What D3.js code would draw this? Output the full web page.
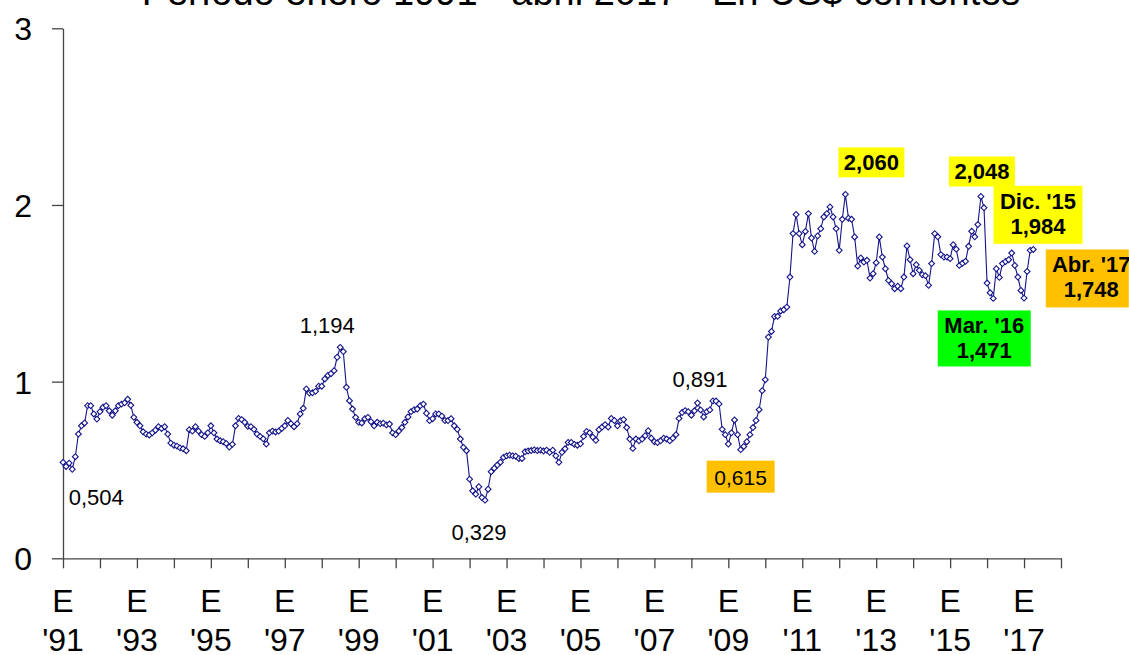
<!DOCTYPE html>
<html>
<head>
<meta charset="utf-8">
<script src="https://cdn.jsdelivr.net/npm/d3@7"></script>
<style>
  body { margin: 0; background: #fff; }
  svg { display: block; font-family: Arial, "Liberation Sans", sans-serif; }
</style>
</head>
<body>
<svg width="1129" height="655"></svg>
<script>
// monthly values, US$ corrientes, enero 1991 - abril 2017
const v1991 = [0.543, 0.520, 0.539, 0.504, 0.575, 0.703, 0.750, 0.766, 0.864, 0.864, 0.817, 0.788];
const v1992 = [0.830, 0.855, 0.864, 0.835, 0.810, 0.835, 0.864, 0.873, 0.880, 0.900, 0.866, 0.798];
const v1993 = [0.770, 0.750, 0.716, 0.703, 0.698, 0.710, 0.725, 0.745, 0.735, 0.745, 0.703, 0.652];
const v1994 = [0.640, 0.635, 0.625, 0.620, 0.609, 0.728, 0.720, 0.745, 0.720, 0.700, 0.690, 0.710];
const v1995 = [0.750, 0.710, 0.675, 0.665, 0.660, 0.650, 0.630, 0.645, 0.750, 0.792, 0.785, 0.770];
const v1996 = [0.747, 0.745, 0.730, 0.703, 0.690, 0.676, 0.647, 0.710, 0.720, 0.715, 0.720, 0.735];
const v1997 = [0.750, 0.780, 0.762, 0.745, 0.762, 0.817, 0.849, 0.959, 0.935, 0.937, 0.945, 0.974];
const v1998 = [0.974, 1.015, 1.035, 1.045, 1.062, 1.138, 1.194, 1.170, 0.968, 0.892, 0.845, 0.798];
const v1999 = [0.770, 0.766, 0.790, 0.798, 0.773, 0.750, 0.770, 0.762, 0.765, 0.755, 0.760, 0.710];
const v2000 = [0.700, 0.720, 0.740, 0.770, 0.800, 0.830, 0.841, 0.845, 0.864, 0.873, 0.821, 0.779];
const v2001 = [0.790, 0.817, 0.817, 0.805, 0.780, 0.780, 0.790, 0.750, 0.730, 0.675, 0.628, 0.609];
const v2002 = [0.448, 0.382, 0.363, 0.405, 0.344, 0.329, 0.391, 0.490, 0.510, 0.528, 0.544, 0.571];
const v2003 = [0.580, 0.584, 0.580, 0.578, 0.565, 0.565, 0.603, 0.607, 0.610, 0.614, 0.610, 0.612];
const v2004 = [0.607, 0.612, 0.600, 0.612, 0.580, 0.543, 0.600, 0.620, 0.656, 0.656, 0.645, 0.640];
const v2005 = [0.648, 0.690, 0.718, 0.710, 0.686, 0.668, 0.728, 0.743, 0.756, 0.743, 0.792, 0.780];
const v2006 = [0.750, 0.779, 0.785, 0.740, 0.675, 0.622, 0.675, 0.665, 0.675, 0.694, 0.722, 0.680];
const v2007 = [0.660, 0.655, 0.665, 0.680, 0.675, 0.665, 0.680, 0.700, 0.792, 0.825, 0.836, 0.830];
const v2008 = [0.810, 0.835, 0.879, 0.840, 0.800, 0.830, 0.840, 0.891, 0.890, 0.874, 0.730, 0.700];
const v2009 = [0.647, 0.710, 0.783, 0.700, 0.615, 0.633, 0.660, 0.700, 0.740, 0.780, 0.841, 0.949];
const v2010 = [1.011, 1.252, 1.284, 1.369, 1.370, 1.400, 1.407, 1.422, 1.592, 1.838, 1.946, 1.838];
const v2011 = [1.775, 1.850, 1.951, 1.813, 1.737, 1.825, 1.866, 1.932, 1.951, 1.989, 1.932, 1.866];
const v2012 = [1.743, 1.919, 2.060, 1.925, 1.919, 1.819, 1.654, 1.700, 1.677, 1.687, 1.586, 1.611];
const v2013 = [1.673, 1.819, 1.705, 1.639, 1.573, 1.554, 1.526, 1.540, 1.526, 1.592, 1.768, 1.690];
const v2014 = [1.611, 1.662, 1.630, 1.605, 1.600, 1.545, 1.668, 1.838, 1.820, 1.719, 1.705, 1.705];
const v2015 = [1.696, 1.775, 1.750, 1.658, 1.670, 1.681, 1.766, 1.851, 1.820, 1.889, 2.048, 1.984];
const v2016 = [1.558, 1.503, 1.471, 1.639, 1.590, 1.668, 1.680, 1.690, 1.728, 1.658, 1.592, 1.516];
const v2017 = [1.473, 1.624, 1.743, 1.748];

const years = d3.range(1991, 2019);
const yTicks = [0, 1, 2, 3];

// plain value labels: [month index, value, text, dx, dy]
const plainLabels = [
  [3, 0.504, '0,504', 24, 36],
  [90, 1.194, '1,194', -13, -14],
  [137, 0.329, '0,329', -6, 40],
  [211, 0.891, '0,891', -13, -14]
];
// boxed labels: [month index, value, lines, colour]
const boxLabels = [
  [254, 2.060, ['2,060'], '#ffff00'],
  [298, 2.048, ['2,048'], '#ffff00'],
  [299, 1.984, ['Dic. \'15', '1,984'], '#ffff00'],
  [302, 1.471, ['Mar. \'16', '1,471'], '#00ff00'],
  [315, 1.748, ['Abr. \'17', '1,748'], '#ffc000'],
  [220, 0.615, ['0,615'], '#ffc000']
];

const values = [].concat(v1991, v1992, v1993, v1994, v1995, v1996, v1997, v1998, v1999,
  v2000, v2001, v2002, v2003, v2004, v2005, v2006, v2007, v2008, v2009, v2010,
  v2011, v2012, v2013, v2014, v2015, v2016, v2017);
const data = values.map((v, i) => ({ i: i, v: v }));

const svg = d3.select('svg');
const x = d3.scaleLinear().domain([0, 324]).range([63, 1061]);
const y = d3.scaleLinear().domain([0, 3]).range([558.3, 28.3]);

svg.append('text')
    .attr('x', 581)
    .attr('y', 5)
    .attr('text-anchor', 'middle')
    .style('font-size', '38px')
    .text('Período enero 1991 - abril 2017 - En US$ corrientes');

const yAxis = svg.append('g')
    .attr('transform', 'translate(63,0)')
    .call(d3.axisLeft(y).tickValues(yTicks).tickSize(11).tickSizeOuter(0).tickPadding(20).tickFormat(d3.format('d')));
yAxis.selectAll('text').style('font-size', '32px').attr('fill', '#000').attr('dy', '0.36em');

const xAxis = svg.append('g')
    .attr('transform', 'translate(0,558.3)')
    .call(d3.axisBottom(x).tickValues(years.map(yr => (yr - 1991) * 12)).tickSize(10).tickSizeOuter(0).tickFormat(''));

svg.selectAll('.domain, .tick line').attr('stroke', '#444').attr('stroke-width', 1.3);

const xLab = svg.append('g').selectAll('g')
    .data(years.filter(yr => yr % 2 === 1 && yr <= 2017))
    .enter().append('g')
    .attr('transform', yr => `translate(${x((yr - 1991) * 12)},0)`);
xLab.append('text')
    .attr('y', 612)
    .attr('text-anchor', 'middle')
    .style('font-size', '32px')
    .text('E');
xLab.append('text')
    .attr('y', 651)
    .attr('text-anchor', 'middle')
    .style('font-size', '32px')
    .text(yr => '\'' + String(yr).slice(2));

const line = d3.line()
    .x(d => x(d.i))
    .y(d => y(d.v));

svg.append('path')
    .datum(data)
    .attr('d', line)
    .attr('fill', 'none')
    .attr('stroke', '#14148a')
    .attr('stroke-width', 1.1);

svg.append('g').selectAll('path')
    .data(data)
    .enter().append('path')
    .attr('d', d3.symbol(d3.symbolSquare, 17))
    .attr('transform', d => `translate(${x(d.i)},${y(d.v)}) rotate(45)`)
    .attr('fill', '#fff')
    .attr('stroke', '#14148a')
    .attr('stroke-width', 1.1);

svg.append('g').selectAll('text')
    .data(plainLabels)
    .enter().append('text')
    .attr('x', d => x(d[0]) + d[3])
    .attr('y', d => y(d[1]) + d[4])
    .attr('text-anchor', 'middle')
    .style('font-size', '22px')
    .text(d => d[2]);

// box placement: centre x, top y, width, height (px offsets from the point)
const boxPos = {
  '2,060': [26, -47, 66, 30],
  '2,048': [1, -40, 66, 30],
  'Dic. \'15': [54, -22, 89, 58],
  'Mar. \'16': [-9, 12, 93, 56],
  'Abr. \'17': [54, 0, 83, 58],
  '0,615': [0, 11, 68, 32]
};

boxLabels.forEach(b => {
  const p = boxPos[b[2][0]];
  const cx = x(b[0]) + p[0];
  const top = y(b[1]) + p[1];
  const g = svg.append('g');
  g.append('rect')
      .attr('x', cx - p[2] / 2)
      .attr('y', top)
      .attr('width', p[2])
      .attr('height', p[3])
      .attr('fill', b[3]);
  const bold = b[2][0] !== '0,615';
  g.selectAll('text')
      .data(b[2])
      .enter().append('text')
      .attr('x', b[2][0] === 'Abr. \'17' ? cx + 4 : cx)
      .attr('y', (d, k) => top + (b[2].length === 1 ? p[3] / 2 + 8 : 23 + k * 25))
      .attr('text-anchor', 'middle')
      .style('font-size', bold ? '22px' : '21px')
      .style('font-weight', bold ? 'bold' : 'normal')
      .text(d => d);
});
</script>
</body>
</html>
